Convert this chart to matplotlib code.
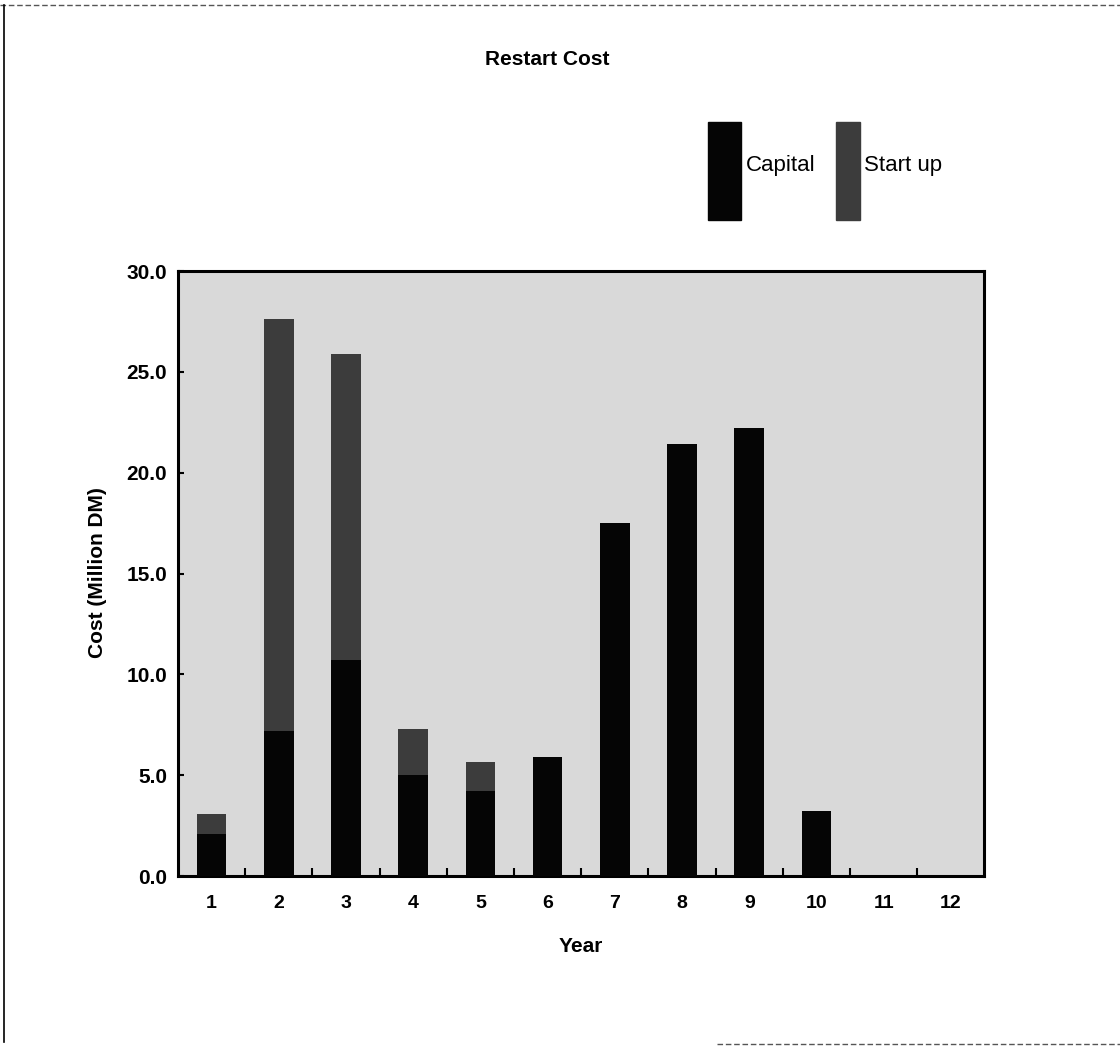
import numpy as np
import matplotlib
matplotlib.use("Agg")
import matplotlib.pyplot as plt
from matplotlib.lines import Line2D
from matplotlib.patches import Rectangle

plt.rcParams["font.family"] = ["Liberation Sans", "DejaVu Sans"]

years = ["1", "2", "3", "4", "5", "6", "7", "8", "9", "10", "11", "12"]
capital = [2.1, 7.2, 10.7, 5.0, 4.2, 5.9, 17.5, 21.4, 22.2, 3.2, 0.0, 0.0]
start_up = [1.0, 20.4, 15.2, 2.3, 1.45, 0.0, 0.0, 0.0, 0.0, 0.0, 0.0, 0.0]
yticks = [0.0, 5.0, 10.0, 15.0, 20.0, 25.0, 30.0]

CAP_COLOR = "#050505"
SU_COLOR = "#3c3c3c"

fig = plt.figure(figsize=(11.2, 10.46), dpi=100)
ax = fig.add_axes([0.159, 0.1625, 0.720, 0.5784])
ax.set_facecolor("#d9d9d9")

x = np.arange(1, len(years) + 1)
ax.bar(x, capital, width=0.44, color=CAP_COLOR, zorder=3)
ax.bar(x, start_up, width=0.44, bottom=capital, color=SU_COLOR, zorder=3)

ax.set_xlim(0.5, 12.5)
ax.set_ylim(0, 30)
ax.set_xticks(x)
ax.set_xticklabels(years, fontsize=14, fontweight="bold")
ax.set_xticks(np.arange(1.5, 12.5, 1.0), minor=True)
ax.tick_params(axis="x", which="major", length=0, pad=14)
ax.tick_params(axis="x", which="minor", direction="in", length=6, width=1.5)
ax.set_yticks(yticks)
ax.set_yticklabels([f"{v:.1f}" for v in yticks], fontsize=15, fontweight="bold")
ax.tick_params(axis="y", direction="in", length=4, width=1.5, pad=8)
for s in ax.spines.values():
    s.set_linewidth(2.2)

ax.set_xlabel("Year", fontsize=15, fontweight="bold", labelpad=18)
fig.text(0.087, 0.453, "Cost (Million DM)", rotation=90, fontsize=15,
         fontweight="bold", ha="center", va="center")

fig.text(0.489, 0.943, "Restart Cost", fontsize=15, fontweight="bold",
         ha="center", va="center")

# legend: tall swatches with labels
fig.patches.append(Rectangle((0.632, 0.790), 0.030, 0.093, color=CAP_COLOR,
                             transform=fig.transFigure, figure=fig))
fig.text(0.666, 0.842, "Capital", fontsize=16, ha="left", va="center")
fig.patches.append(Rectangle((0.746, 0.790), 0.022, 0.093, color=SU_COLOR,
                             transform=fig.transFigure, figure=fig))
fig.text(0.771, 0.842, "Start up", fontsize=16, ha="left", va="center")

# scanned page frame
fig.add_artist(Line2D([0.0, 1.0], [0.995, 0.995], color="#555555", lw=1.0,
                      ls=(0, (4, 2)), transform=fig.transFigure))
fig.add_artist(Line2D([0.004, 0.004], [0.004, 0.995], color="black", lw=1.2,
                      transform=fig.transFigure))
fig.add_artist(Line2D([0.64, 1.0], [0.002, 0.002], color="#555555", lw=1.0,
                      ls=(0, (4, 2)), transform=fig.transFigure))

fig.savefig("out.png", dpi=100)
